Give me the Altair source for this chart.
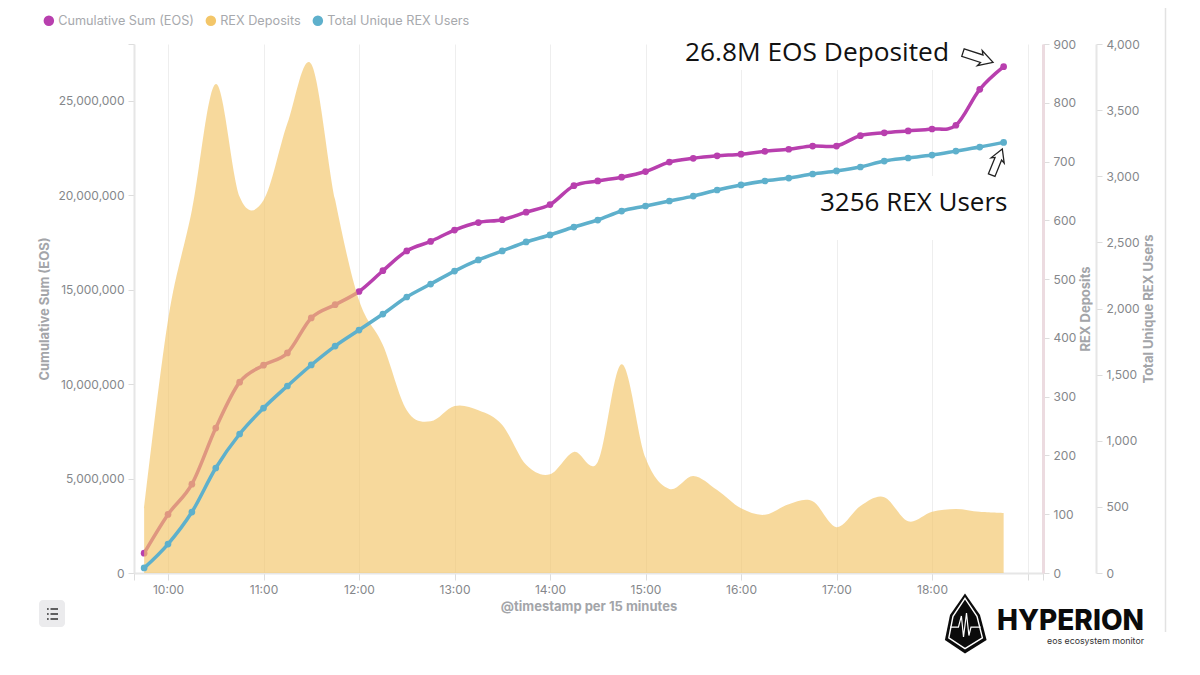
import altair as alt
import pandas as pd

times = pd.date_range("2019-04-30T09:45:00Z", periods=37, freq="15min")
time_strings = [t.strftime("%Y-%m-%dT%H:%M:%SZ") for t in times]

cumulative_eos = [1050000, 3100000, 4700000, 7670000, 10100000, 11000000, 11650000, 13500000, 14200000,
                  14900000, 16000000, 17050000, 17550000, 18150000, 18550000, 18700000, 19100000, 19500000,
                  20500000, 20750000, 20950000, 21250000, 21750000, 21950000, 22080000, 22170000, 22320000,
                  22430000, 22600000, 22600000, 23150000, 23300000, 23400000, 23500000, 23700000, 25600000,
                  26800000]
rex_deposits = [110, 430, 617, 832, 640, 634, 765, 866, 635, 464, 388, 277, 258, 284, 277, 252, 184, 168,
                206, 189, 355, 196, 143, 165, 141, 110, 99, 117, 122, 78, 114, 129, 88, 104, 109, 104, 102]
unique_users = [38, 219, 461, 794, 1051, 1247, 1414, 1573, 1716, 1837, 1958, 2087, 2185, 2283, 2367, 2435,
                2503, 2556, 2616, 2669, 2737, 2775, 2813, 2850, 2896, 2934, 2964, 2986, 3017, 3040, 3070,
                3115, 3138, 3160, 3190, 3221, 3256]

series_names = ["Cumulative Sum (EOS)", "REX Deposits", "Total Unique REX Users"]
series_colors = ["#b83fae", "#f3c669", "#5eb0cc"]
eos_ticks = [0, 5000000, 10000000, 15000000, 20000000, 25000000, 28000000]
deposit_ticks = [0, 100, 200, 300, 400, 500, 600, 700, 800, 900]
user_ticks = [0, 500, 1000, 1500, 2000, 2500, 3000, 3500, 4000]
x_start = "2019-04-30T09:38:38Z"
x_end = "2019-04-30T19:09:44Z"
hour_strings = ["2019-04-30T%02d:00:00Z" % h for h in range(10, 20)]
note_eos = "26.8M EOS Deposited"
note_users = "3256 REX Users"
logo_title = "HYPERION"
logo_subtitle = "eos ecosystem monitor"

df = pd.DataFrame({"t": time_strings, "eos": cumulative_eos, "dep": rex_deposits, "users": unique_users})
one = pd.DataFrame({"k": [0]})

def ms(s):
    return int(pd.Timestamp(s).timestamp() * 1000)

GRID = "#eeeeee"
LBL = "#85878b"
TTL = "#a3a5a9"
FONT = "Inter"
OX, OY = 134, 44  # plot-area origin on the page

def px(v):
    return alt.value(v - OX)
def py(v):
    return alt.value(v - OY)

x_scale = alt.Scale(type="utc", domain=[ms(x_start), ms(x_end)])
x_enc = alt.X("t:T", scale=x_scale, axis=alt.Axis(
    values=[ms(x_start)] + [ms(h) for h in hour_strings] + [ms(x_end)],
    labelExpr="utcminutes(datum.value)==0 && utchours(datum.value)<19 ? utcFormat(datum.value,'%H:%M') : ''",
    title="@timestamp per 15 minutes", titleFontSize=13, titleFontWeight="bold", titleColor=TTL,
    titleFont=FONT, titlePadding=5, labelFont=FONT, labelFontSize=12, labelColor=LBL, labelPadding=4,
    grid=True, gridColor=GRID, gridWidth=1, domainColor="#e6e6e6", domainWidth=2, tickColor="#dddddd",
    tickSize=7, labelFlush=False, labelOverlap=False))

color_enc = alt.Color("s:N", scale=alt.Scale(domain=series_names, range=series_colors), legend=alt.Legend(
    title=None, orient="none", legendX=-91.5, legendY=-30, direction="horizontal",
    symbolType="circle", symbolSize=110, symbolOpacity=1, symbolStrokeWidth=0,
    labelFont=FONT, labelFontSize=12.7, labelColor="#a7a9ad", columnPadding=10, labelOffset=3))

def y_axis(orient, title, values, offset=0, domain="#e6e6e6", width=2, pad=None):
    return alt.Axis(orient=orient, title=title, values=values, offset=offset, grid=False,
                    format=",d", titleFontSize=13, titleFontWeight="bold", titleColor=TTL, titleFont=FONT,
                    titlePadding=pad, labelFont=FONT, labelFontSize=12, labelColor=LBL, labelPadding=4,
                    domainColor=domain, domainWidth=width, tickColor="#dddddd", tickSize=6,
                    titleAngle=270, labelExpr="datum.value==28000000 ? '' : format(datum.value, ',d')")

base = alt.Chart(df)
eos_y = alt.Y("eos:Q", scale=alt.Scale(domain=[0, 28000000], nice=False),
              axis=y_axis("left", "Cumulative Sum (EOS)", eos_ticks, pad=6))
dep_y = alt.Y("dep:Q", scale=alt.Scale(domain=[0, 900], nice=False),
              axis=y_axis("right", "REX Deposits", deposit_ticks, domain="#ecdbe0", width=3, pad=17))
usr_y = alt.Y("users:Q", scale=alt.Scale(domain=[0, 4000], nice=False),
              axis=y_axis("right", "Total Unique REX Users", user_ticks, offset=53, pad=16))

pt = alt.OverlayMarkDef(filled=True, size=45, opacity=1)
eos_line = base.transform_calculate(s="'%s'" % series_names[0]).mark_line(
    strokeWidth=3.5, interpolate="cardinal", point=pt).encode(x=x_enc, y=eos_y, color=color_enc)
dep_area = base.transform_calculate(s="'%s'" % series_names[1]).mark_area(
    interpolate="cardinal", opacity=0.66).encode(x=x_enc, y=dep_y, color=color_enc)
usr_line = base.transform_calculate(s="'%s'" % series_names[2]).mark_line(
    strokeWidth=3.5, interpolate="cardinal", point=pt).encode(x=x_enc, y=usr_y, color=color_enc)

fixed = alt.Chart(one)

def box(x0, y0, x1, y1, color, **kw):
    return fixed.mark_rect(color=color, **kw).encode(x=px(x0), x2=px(x1), y=py(y0), y2=py(y1))

def shape(path, x, y, size, **kw):
    return fixed.mark_point(shape=path, size=size, **kw).encode(x=px(x), y=py(y))

def label(txt, x, y, **kw):
    return fixed.mark_text(text=txt, **kw).encode(x=px(x), y=py(y))

ARROW = "M-1,-0.25 L0.25,-0.25 L0.12,-0.5 L1,0 L0.12,0.5 L0.25,0.25 L-1,0.25 Z"
SHIELD = "M0,-1 L0.5,-0.28 L0.72,0.55 L0,1 L-0.67,0.55 L-0.5,-0.28 Z"
SHIELD_IN = "M0,-0.84 L0.4,-0.24 L0.58,0.48 L0,0.84 L-0.54,0.48 L-0.4,-0.24 Z"
PULSE = "M-0.5,0.12 L-0.22,0.12 L-0.12,-0.25 L-0.05,0.45 L0.05,-0.35 L0.13,0.4 L0.2,0.12 L0.52,0.12"
LIST = "M-0.55,-0.5 L-0.38,-0.5 M-0.2,-0.5 L0.55,-0.5 M-0.55,0 L-0.38,0 M-0.2,0 L0.55,0 M-0.55,0.5 L-0.38,0.5 M-0.2,0.5 L0.55,0.5"

extras_under = [
    box(680, 44, 955, 70, "white"),
    box(820, 176, 1012, 240, "white"),
]
extras_over = [
    label(note_eos, 685, 53, font="Open Sans", fontSize=26.3, align="left", baseline="middle", color="#111111"),
    label(note_users, 820, 203, font="Open Sans", fontSize=26, align="left", baseline="middle", color="#111111"),
    shape(ARROW, 978, 57.5, 1000, angle=18, filled=False, stroke="#222222", strokeWidth=1.3, opacity=1),
    shape(ARROW, 997, 162, 800, angle=292, filled=False, stroke="#222222", strokeWidth=1.3, opacity=1),
    fixed.mark_rule(color="#e2e2e2", strokeWidth=1.5).encode(x=px(1165.5), y=py(0), y2=py(632)),
    box(39, 600, 65, 627, "#ebebed", cornerRadius=4),
    shape(LIST, 52.5, 614, 400, filled=False, stroke="#333333", strokeWidth=1.5, opacity=1),
    shape(SHIELD, 965, 623.5, 3600, filled=True, color="#0b0b0b", opacity=1),
    shape(SHIELD_IN, 965, 623.5, 3600, filled=False, stroke="white", strokeWidth=1.4, opacity=1),
    shape(PULSE, 965, 623.5, 3600, filled=False, stroke="white", strokeWidth=1.2, opacity=1),
    label(logo_title, 997, 621.5, font=FONT, fontSize=28, fontWeight=800, align="left", baseline="middle", color="#0b0b0b"),
    label(logo_subtitle, 1144, 640.5, font=FONT, fontSize=8.8, align="right", baseline="middle", color="#333333"),
]

chart = alt.layer(
    *extras_under, eos_line, dep_area, usr_line, *extras_over
).resolve_scale(y="independent").properties(
    width=909, height=529, autosize=alt.AutoSizeParams(type="none"),
    padding={"left": 126, "top": 36, "right": 149, "bottom": 94},
).configure_view(stroke=None)

chart.save("out.html", embed_options={"renderer": "svg", "actions": False})
